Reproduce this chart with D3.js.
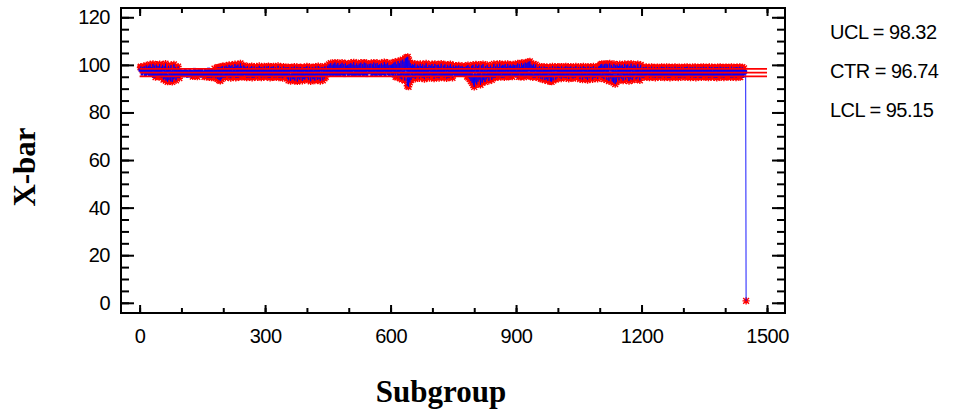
<!DOCTYPE html>
<html>
<head>
<meta charset="utf-8">
<script src="https://cdn.jsdelivr.net/npm/d3@7"></script>
<style>
  html, body { margin: 0; padding: 0; background: #ffffff; }
  svg { display: block; }
</style>
</head>
<body>
<script>
// ---------------- DATA ----------------
const xbarValues = [
97.8,98.9,99.3,97.2,98.4,96.1,99.0,97.6,98.8,96.9,99.4,97.3,98.1,95.9,98.6,99.8,97.0,96.4,98.9,97.7,99.6,96.8,95.8,98.3,100.2,
97.1,96.0,98.7,99.1,95.6,97.9,100.4,96.3,95.2,98.5,99.7,96.6,94.8,97.4,100.1,98.0,95.5,96.9,99.5,97.2,94.9,98.6,100.3,96.1,95.4,
97.6,99.2,94.7,96.3,100.0,95.1,93.8,97.9,99.4,94.2,96.8,100.5,93.4,95.7,98.8,94.0,92.9,97.3,99.6,93.6,95.0,98.2,96.4,93.1,99.9,
94.5,96.9,92.8,98.5,95.3,93.9,100.2,96.0,94.3,97.7,99.1,93.5,95.8,98.4,94.8,96.6,99.3,95.2,97.1,94.4,98.0,96.2,95.6,97.5,96.9,
96.5,95.8,97.3,96.1,95.4,97.0,96.6,95.9,97.8,96.2,95.6,96.9,97.4,95.2,96.3,97.1,95.7,96.8,95.5,97.6,96.0,95.3,96.7,97.2,95.8,
96.4,95.1,97.0,96.3,95.6,98.1,96.5,95.4,96.9,95.9,97.5,96.1,95.0,96.6,97.3,95.7,96.2,98.0,95.5,96.8,96.0,95.3,97.7,96.4,95.8,
96.2,95.4,97.1,96.7,95.0,96.5,97.9,95.6,96.0,94.9,97.3,96.4,95.2,96.9,98.2,95.8,94.7,96.6,97.5,95.3,96.1,94.6,97.8,96.3,95.5,
96.8,94.8,97.0,98.4,95.1,96.0,94.4,97.2,95.7,98.8,94.1,96.5,99.0,95.0,93.6,97.4,98.9,93.3,95.9,99.2,94.0,96.7,99.5,95.2,97.6,
98.6,95.4,99.3,96.9,94.6,98.1,99.7,95.8,97.2,99.0,94.9,96.5,98.8,100.0,95.3,97.7,99.4,94.4,96.2,98.5,99.9,95.6,97.0,94.8,99.1,
98.3,95.9,100.3,96.8,94.5,98.9,99.6,95.2,97.5,100.1,96.1,94.7,99.2,98.0,95.5,100.6,97.3,96.0,99.5,94.9,98.7,96.6,95.1,99.8,97.9,
96.3,99.2,95.0,97.8,98.9,94.6,96.5,99.4,97.1,95.3,98.6,96.0,94.8,99.0,97.5,95.7,98.2,99.5,94.5,96.8,98.0,95.2,97.3,99.3,96.1,
94.9,98.5,97.0,95.5,99.1,96.6,94.7,98.8,97.4,95.9,99.6,96.2,95.1,98.3,97.7,94.6,99.0,96.4,95.6,98.1,97.2,94.8,99.4,96.9,95.4,
98.7,95.8,97.1,99.3,94.9,96.4,98.4,99.5,95.2,97.6,96.0,94.5,98.9,97.3,95.6,99.2,96.7,95.0,98.2,99.4,94.7,96.9,97.8,95.4,99.0,
96.2,94.8,98.6,97.0,95.9,99.6,96.5,94.6,98.0,97.4,95.3,99.1,96.8,95.7,98.5,97.9,94.4,96.1,99.3,95.5,97.2,98.8,94.9,96.6,99.0,
95.6,98.4,94.2,96.9,99.1,93.5,97.3,95.0,98.7,94.6,93.2,97.8,99.0,95.4,93.9,96.5,98.2,94.0,97.1,99.3,93.4,95.8,98.0,94.8,96.3,
99.2,93.0,95.5,97.6,94.3,98.9,96.0,93.7,97.4,99.1,94.5,95.9,98.5,93.3,96.7,97.9,94.1,99.0,95.2,93.8,98.3,96.4,94.7,97.2,99.4,
94.4,96.8,98.6,93.6,95.7,99.2,94.9,97.5,93.1,98.1,95.3,96.6,99.0,93.9,97.0,94.2,98.8,95.6,93.4,97.7,99.3,94.6,96.1,98.4,93.7,
95.1,99.5,97.2,94.0,96.4,98.9,93.2,95.9,97.9,94.8,99.1,96.3,93.5,98.2,95.4,97.4,94.3,99.4,96.0,95.0,98.7,97.1,95.8,99.6,97.6,
98.9,96.3,100.2,97.6,95.8,99.4,100.7,97.0,96.1,99.8,98.4,95.6,100.5,97.9,96.6,99.2,101.0,96.0,98.6,100.1,95.9,97.4,99.6,100.8,96.4,
98.1,99.9,95.7,97.2,100.4,98.8,96.2,99.3,100.9,97.5,96.0,99.0,100.3,97.8,95.5,98.5,100.6,96.8,99.7,97.1,96.5,100.0,98.3,95.8,99.5,
100.4,97.3,96.1,99.1,100.8,96.7,98.0,100.2,95.7,97.8,99.6,101.1,96.3,98.7,100.0,95.9,97.5,99.3,100.6,96.5,98.2,99.9,96.0,97.1,100.5,
98.9,95.6,99.4,100.9,97.7,96.4,98.6,100.3,96.9,95.8,99.8,101.0,97.4,96.2,99.0,100.7,98.1,95.5,97.9,100.1,99.2,96.6,98.4,100.4,97.0,
96.8,99.7,100.6,97.2,95.9,98.8,100.2,96.4,99.1,101.0,97.6,96.0,98.3,100.5,99.5,95.7,97.9,100.8,96.7,98.5,99.9,96.1,97.4,100.3,98.0,
95.8,99.3,100.7,97.1,96.5,98.9,100.1,96.2,97.7,101.2,99.0,95.6,98.2,100.4,96.9,97.5,99.6,100.9,96.3,98.6,99.8,95.9,97.3,100.0,98.7,
97.5,99.8,96.1,100.4,98.2,95.4,99.1,100.9,96.6,97.9,101.3,95.0,98.6,100.2,96.9,94.7,99.5,101.6,97.2,95.6,100.7,98.4,94.3,99.0,101.8,
96.3,93.9,100.1,102.2,97.0,94.9,101.4,99.3,93.4,102.7,100.5,95.8,103.1,98.1,91.2,103.4,96.0,90.8,101.9,97.6,92.6,100.8,98.9,93.7,99.6,
96.2,100.3,94.5,98.7,99.9,95.3,97.1,100.5,94.1,96.8,99.2,98.0,94.7,100.1,96.5,95.0,99.6,97.7,94.3,98.9,100.4,95.7,96.9,99.4,94.8,
97.5,100.2,95.2,98.3,96.1,94.0,99.8,97.3,95.6,100.6,98.5,94.6,96.7,99.1,95.4,97.9,100.0,94.4,96.3,98.8,99.7,95.1,97.0,100.3,94.9,
98.2,96.0,99.5,94.2,97.4,100.4,95.5,98.6,96.6,94.7,99.9,97.1,95.3,100.1,98.0,94.4,96.8,99.3,95.9,97.6,100.5,94.9,98.4,96.3,95.0,
99.7,97.2,94.6,98.9,100.2,95.7,96.5,99.0,94.3,97.8,100.0,96.1,95.2,98.5,99.6,94.8,97.0,100.3,95.6,96.9,99.2,98.1,94.5,97.3,99.8,
96.4,99.1,97.5,95.8,98.6,99.7,96.0,97.2,99.4,95.9,98.0,96.7,99.8,97.0,95.7,98.8,99.3,96.3,97.8,95.9,99.6,96.9,98.3,95.8,97.4,
99.0,96.2,98.9,95.6,97.7,99.5,96.5,95.1,98.4,99.9,94.6,97.1,99.2,94.0,96.8,98.7,93.2,95.5,99.6,92.4,97.3,100.0,91.5,94.8,90.7,
98.9,92.6,95.3,100.2,93.4,91.8,97.6,99.4,92.9,95.9,100.1,93.8,96.4,98.5,91.6,94.7,99.8,97.2,92.5,95.1,100.3,93.6,96.9,98.8,94.2,
92.8,99.5,97.0,93.9,95.6,100.0,94.5,97.8,99.1,93.3,96.2,98.3,94.9,99.7,95.4,97.5,93.7,99.0,96.6,94.4,98.6,100.4,95.2,97.1,94.6,
99.3,96.0,95.0,98.7,100.2,96.6,94.8,99.0,97.4,95.5,100.5,98.1,94.9,96.8,99.6,97.7,95.2,100.0,96.3,98.5,99.8,94.7,97.1,100.3,95.8,
96.5,99.2,98.0,95.1,100.4,97.3,94.9,98.9,99.7,96.1,95.4,100.1,97.8,96.7,99.4,95.0,98.3,100.2,96.4,97.6,99.9,95.6,98.8,96.2,100.0,
97.0,95.3,99.5,100.6,96.5,98.2,95.0,100.3,97.7,99.1,94.9,96.8,100.8,98.4,95.7,99.8,97.2,100.5,94.8,96.6,99.3,101.0,97.5,95.4,98.9,
100.7,96.2,99.6,101.3,97.9,95.1,99.0,101.5,96.0,98.6,100.2,95.6,97.4,99.7,94.7,98.1,100.4,96.9,95.2,99.2,97.8,100.1,94.9,96.4,98.7,
95.8,99.0,97.3,94.5,96.7,99.4,95.1,98.2,94.2,97.0,99.2,95.6,93.9,98.6,96.4,94.8,99.3,97.5,93.6,95.9,98.9,96.1,94.0,99.1,97.2,
93.3,96.8,98.4,94.6,95.3,99.0,93.1,97.6,98.7,92.9,96.2,99.4,94.3,93.5,98.0,96.6,94.9,99.2,95.5,93.8,97.9,98.8,94.4,96.3,99.3,
95.0,97.4,99.1,94.6,96.5,98.7,95.7,94.2,99.3,97.1,95.4,98.4,96.0,94.8,99.0,97.8,95.2,96.9,99.4,94.4,98.1,96.3,95.6,99.2,97.5,
94.1,96.7,98.9,95.1,97.2,99.3,94.7,96.1,98.6,95.8,94.3,99.0,97.6,95.3,98.2,96.8,94.5,99.4,96.4,95.9,98.5,97.0,94.9,99.1,96.2,
98.0,95.5,94.0,99.2,97.3,95.0,98.8,96.6,93.8,97.9,99.4,95.7,94.6,98.3,96.1,99.0,94.2,97.0,98.6,95.3,93.6,99.3,96.8,95.9,98.1,
94.4,97.7,99.1,95.1,96.3,98.9,94.8,93.9,97.5,99.4,96.0,95.2,98.4,97.1,94.5,99.0,96.7,95.6,98.7,94.1,97.4,99.3,95.8,96.5,99.6,
97.2,100.1,95.4,98.6,100.4,94.5,96.9,99.7,97.8,94.0,100.3,98.2,95.1,96.6,100.5,99.0,93.7,97.3,100.2,95.8,98.5,93.2,99.4,100.6,96.2,
94.3,98.9,100.0,95.5,93.0,99.2,97.6,92.5,100.4,96.8,94.1,91.9,99.8,97.0,92.7,98.3,100.1,94.6,96.4,99.5,93.5,97.7,100.3,95.2,98.0,
99.6,94.2,96.7,100.0,97.9,93.4,99.1,95.9,98.4,100.4,94.8,93.8,97.5,99.8,96.1,94.5,100.2,98.7,95.3,93.2,97.2,99.5,96.4,94.0,100.5,
98.1,95.6,93.6,99.3,97.0,94.7,100.1,96.5,95.1,98.9,99.7,93.9,96.9,98.2,94.4,100.3,97.4,95.4,99.0,96.0,93.5,98.6,100.0,95.8,97.1,
96.4,98.8,95.2,97.5,99.1,94.7,96.9,98.2,95.6,97.0,99.2,94.9,96.3,98.6,97.7,95.0,96.8,99.0,94.6,97.3,98.4,95.8,96.1,99.2,97.9,
94.8,96.6,98.7,95.4,97.2,99.0,96.0,94.5,98.1,97.4,95.7,96.7,99.1,94.9,97.8,98.5,95.3,96.2,98.9,97.1,94.7,96.5,99.2,95.9,97.6,
98.3,95.1,96.8,99.0,94.6,97.4,98.6,95.5,96.3,99.2,97.0,94.8,98.0,96.6,95.2,99.1,97.7,94.5,96.9,98.8,95.7,97.3,99.0,94.9,96.1,
98.4,97.8,95.0,96.5,99.2,94.7,97.6,98.1,95.8,96.2,98.9,97.1,94.6,96.7,99.1,95.3,97.9,98.5,94.8,96.4,99.0,97.2,95.6,96.0,98.7,
95.4,97.5,99.1,94.7,96.6,98.3,95.9,97.1,99.2,94.9,96.2,98.7,97.6,95.1,96.8,99.0,94.6,97.4,98.2,95.7,96.5,99.1,97.0,94.8,98.6,
96.3,95.3,99.2,97.8,94.5,96.9,98.4,95.6,97.2,99.0,94.9,96.0,98.8,97.5,95.2,96.7,99.1,94.7,97.9,98.1,95.8,96.4,99.2,97.3,95.0,
96.6,98.9,94.8,97.2,99.0,95.5,96.1,98.5,97.7,94.6,96.9,99.2,95.3,97.4,98.2,94.9,96.3,99.1,97.0,95.7,96.8,98.7,94.7,97.6,99.0,
95.2,96.5,98.3,97.9,94.5,96.2,99.1,95.8,97.1,98.6,95.0,96.7,99.2,97.5,94.8,96.0,98.9,97.3,95.4,96.4,99.0,94.6,97.8,98.1,95.6,
97.0,99.1,95.1,96.6,98.8,94.9,97.4,99.0,95.7,96.2,98.4,97.6,94.7,96.8,99.2,95.3,97.1,98.6,94.8,96.5,99.0,97.8,95.5,96.3,98.9,
94.6,97.2,99.1,95.9,96.7,98.2,97.5,95.0,96.1,99.2,94.8,97.3,98.7,95.6,96.9,99.0,97.7,95.2,96.4,98.5,97.0,96.6,97.2,96.9,
0.8
];
const limitNames  = ["UCL", "CTR", "LCL"];
const limitValues = [98.32, 96.74, 95.15];
const limitSpan   = [0, 1500];
const xMajorTicks = [0, 300, 600, 900, 1200, 1500];
const xMinorTicks = [0,100,200,300,400,500,600,700,800,900,1000,1100,1200,1300,1400,1500];
const yMajorTicks = [0, 20, 40, 60, 80, 100, 120];
const yMinorTicks = d3.range(0, 121, 5);
const xTitle = "Subgroup";
const yTitle = "X-bar";

// ---------------- LAYOUT ----------------
const W = 956, H = 411;
const L = 121, R = 785, T = 8, B = 313;
const BLUE = "#0000ff", RED = "#ff0000";

const x = d3.scaleLinear().domain([-44.5, 1543]).range([L, R]);
const y = d3.scaleLinear().domain([-4.29, 123.9]).range([B, T]);

const svg = d3.select("body").append("svg")
  .attr("width", W).attr("height", H)
  .style("font-family", "'Liberation Sans', Arial, sans-serif");

const data = xbarValues.map((v, i) => ({ s: i + 1, v }));
const UCL = limitValues[0], LCL = limitValues[2];

svg.append("defs").append("clipPath").attr("id", "plotclip")
  .append("rect").attr("x", L).attr("y", T).attr("width", R - L).attr("height", B - T);

const plot = svg.append("g").attr("clip-path", "url(#plotclip)");

// out-of-control markers (red asterisks), drawn first
const r = 3.6;
const starPath = `M${-r},0L${r},0M${-r*0.8},${-r*0.8}L${r*0.8},${r*0.8}M${-r*0.8},${r*0.8}L${r*0.8},${-r*0.8}M0,${-r}L0,${r}`;
plot.append("g").selectAll("path")
  .data(data.filter(d => d.v > UCL || d.v < LCL))
  .join("path")
  .attr("transform", d => `translate(${x(d.s)},${y(d.v)})`)
  .attr("d", starPath)
  .attr("fill", "none")
  .attr("stroke", RED)
  .attr("stroke-width", 1.4);

// data line
plot.append("path")
  .datum(data)
  .attr("fill", "none")
  .attr("stroke", BLUE)
  .attr("stroke-width", 0.9)
  .attr("d", d3.line().x(d => x(d.s)).y(d => y(d.v)));

// in-control markers (blue squares)
plot.append("g").selectAll("rect")
  .data(data.filter(d => d.v <= UCL && d.v >= LCL))
  .join("rect")
  .attr("x", d => x(d.s) - 1.5).attr("y", d => y(d.v) - 1.5)
  .attr("width", 3).attr("height", 3)
  .attr("fill", BLUE);

// control limit lines
plot.append("g").selectAll("line")
  .data(limitValues)
  .join("line")
  .attr("x1", x(limitSpan[0])).attr("x2", x(limitSpan[1]))
  .attr("y1", d => y(d)).attr("y2", d => y(d))
  .attr("stroke", RED).attr("stroke-width", 1.6);

// ---------------- AXES ----------------
function styleAxis(g) {
  g.select(".domain").remove();
  g.selectAll(".tick line").attr("stroke", "#000").attr("stroke-width", 2);
  g.selectAll(".tick text").attr("fill", "#000").style("font-size", "20px")
    .style("font-family", "'Liberation Sans', Arial, sans-serif")
    .style("letter-spacing", "-0.5px");
}

// bottom
svg.append("g").attr("transform", `translate(0,${B})`)
  .call(d3.axisBottom(x).tickValues(xMinorTicks).tickSize(-5).tickFormat(""))
  .call(styleAxis);
svg.append("g").attr("transform", `translate(0,${B})`)
  .call(d3.axisBottom(x).tickValues(xMajorTicks).tickSize(-8).tickPadding(16).tickFormat(d3.format("d")))
  .call(styleAxis);
// top
svg.append("g").attr("transform", `translate(0,${T})`)
  .call(d3.axisTop(x).tickValues(xMinorTicks).tickSize(-5).tickFormat(""))
  .call(styleAxis);
svg.append("g").attr("transform", `translate(0,${T})`)
  .call(d3.axisTop(x).tickValues(xMajorTicks).tickSize(-8).tickFormat(""))
  .call(styleAxis);
// left
svg.append("g").attr("transform", `translate(${L},0)`)
  .call(d3.axisLeft(y).tickValues(yMinorTicks).tickSize(-8).tickFormat(""))
  .call(styleAxis);
svg.append("g").attr("transform", `translate(${L},0)`)
  .call(d3.axisLeft(y).tickValues(yMajorTicks).tickSize(-13).tickPadding(11).tickFormat(d3.format("d")))
  .call(styleAxis);
// right
svg.append("g").attr("transform", `translate(${R},0)`)
  .call(d3.axisRight(y).tickValues(yMinorTicks).tickSize(-8).tickFormat(""))
  .call(styleAxis);
svg.append("g").attr("transform", `translate(${R},0)`)
  .call(d3.axisRight(y).tickValues(yMajorTicks).tickSize(-13).tickFormat(""))
  .call(styleAxis);

// frame
svg.append("rect")
  .attr("x", L).attr("y", T).attr("width", R - L).attr("height", B - T)
  .attr("fill", "none").attr("stroke", "#000").attr("stroke-width", 2);

// titles
svg.append("text")
  .attr("x", 441).attr("y", 402)
  .attr("text-anchor", "middle")
  .style("font-family", "'Liberation Serif', 'Times New Roman', serif")
  .style("font-weight", "bold").style("font-size", "31px")
  .text(xTitle);

svg.append("text")
  .attr("transform", "translate(35,167) rotate(-90)")
  .attr("text-anchor", "middle")
  .style("font-family", "'Liberation Serif', 'Times New Roman', serif")
  .style("font-weight", "bold").style("font-size", "31px")
  .text(yTitle);

// limit legend
svg.append("g").selectAll("text")
  .data(limitNames)
  .join("text")
  .attr("x", 830)
  .attr("y", (d, i) => 39.3 + i * 38.7)
  .style("font-size", "20px")
  .style("letter-spacing", "-0.5px")
  .attr("fill", "#000")
  .text((d, i) => `${d} = ${limitValues[i].toFixed(2)}`);
</script>
</body>
</html>
